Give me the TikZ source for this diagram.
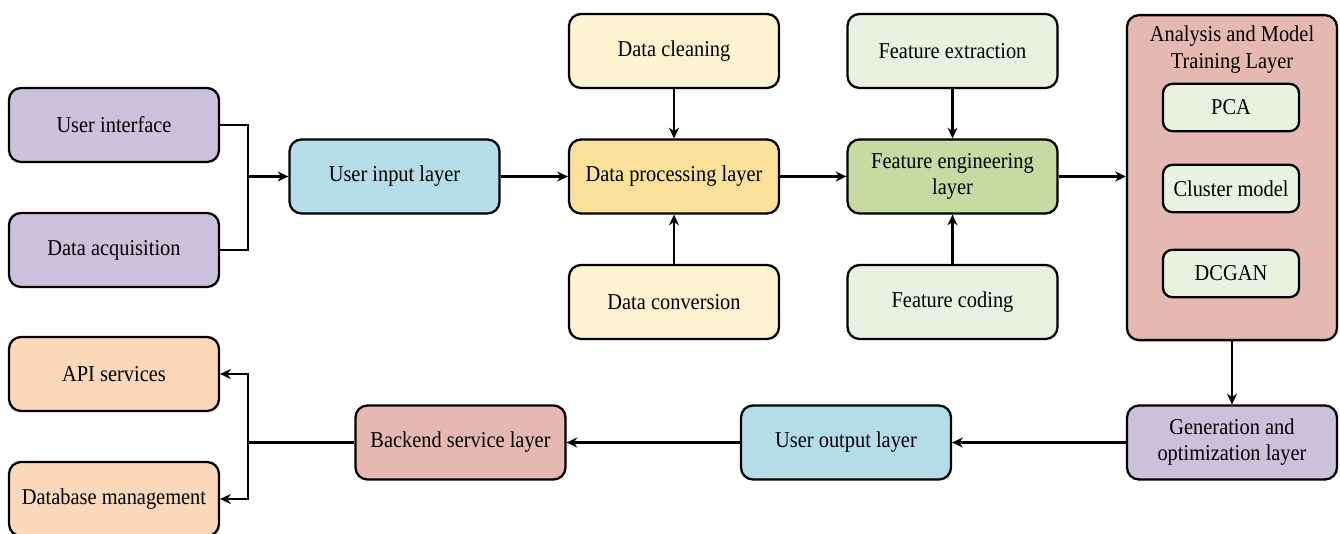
\documentclass[tikz,border=0pt]{standalone}
\usepackage{fontspec}
\setmainfont{Liberation Serif}[FakeStretch=0.9]
\usetikzlibrary{arrows.meta}
\definecolor{cpurple}{HTML}{CBC1DB}
\definecolor{cblue}{HTML}{B5DDE9}
\definecolor{cyell}{HTML}{FEF3D0}
\definecolor{cyelld}{HTML}{FBE09A}
\definecolor{cgreen}{HTML}{E9F1E0}
\definecolor{cgreend}{HTML}{C5DBA1}
\definecolor{cred}{HTML}{E6B8B2}
\definecolor{corange}{HTML}{FBD8BA}
\tikzset{
  box/.style={draw=black, line width=1.7pt, rounded corners=9pt, minimum width=157.5pt, minimum height=55.5pt, align=center, inner sep=2pt, font=\fontsize{17}{19.5}\selectfont},
  sbox/.style={draw=black, line width=1.7pt, rounded corners=7pt, minimum width=102pt, minimum height=35.5pt, align=center, inner sep=2pt, fill=cgreen, font=\fontsize{17}{19.5}\selectfont},
  conn/.style={line width=1.7pt, -{Stealth[length=8pt,width=7.5pt]}},
  plain/.style={line width=1.7pt}
}
\begin{document}
\begin{tikzpicture}[x=0.75pt,y=-0.75pt]
\useasboundingbox (0,0) rectangle (1340,534);
\node[box, fill=cpurple] (ui) at (114,125) {User interface};
\node[box, fill=cpurple] (da) at (114,250) {Data acquisition};
\node[box, fill=cblue] (uil) at (394.5,176.5) {User input layer};
\node[box, fill=cyell] (dc) at (674,51) {Data cleaning};
\node[box, fill=cyelld] (dp) at (674,176.5) {Data processing layer};
\node[box, fill=cyell] (dconv) at (674,302) {Data conversion};
\node[box, fill=cgreen] (fe) at (952.5,51) {Feature extraction};
\node[box, fill=cgreend] (fel) at (952.5,176.5) {Feature engineering\\layer};
\node[box, fill=cgreen] (fc) at (952.5,302) {Feature coding};
\node[box, fill=cred, minimum height=243.75pt, anchor=north] (am) at (1232,14) {};
\node[font=\fontsize{17}{20.25}\selectfont, align=center, anchor=north] (amt) at (1232,21) {Analysis and Model\\Training Layer};
\node[sbox] (pca) at (1231,107.5) {PCA};
\node[sbox] (cm) at (1231,188.5) {Cluster model};
\node[sbox] (dcgan) at (1231,273.5) {DCGAN};
\node[box, fill=cpurple] (gen) at (1232,442.5) {Generation and\\optimization layer};
\node[box, fill=cblue] (uol) at (846,442.5) {User output layer};
\node[box, fill=cred] (bsl) at (460.5,442.5) {Backend service layer};
\node[box, fill=corange] (api) at (114,374) {API services};
\node[box, fill=corange] (db) at (114,499) {Database management};
\coordinate (j1) at (248,176.5);
\coordinate (j2) at (248,442.5);
\draw[plain] (ui.east) -| (j1);
\draw[plain] (da.east) -| (j1);
\draw[conn] (j1) -- (uil.west);
\draw[conn] (uil) -- (dp);
\draw[conn] (dc) -- (dp);
\draw[conn] (dconv) -- (dp);
\draw[conn] (dp) -- (fel);
\draw[conn] (fe) -- (fel);
\draw[conn] (fc) -- (fel);
\draw[conn] (fel.east) -- (fel.east -| am.west);
\draw[conn] (am.south) -- (gen.north);
\draw[conn] (gen) -- (uol);
\draw[conn] (uol) -- (bsl);
\draw[plain] (bsl.west) -- (j2);
\draw[conn] (j2) |- (api.east);
\draw[conn] (j2) |- (db.east);
\end{tikzpicture}
\end{document}
